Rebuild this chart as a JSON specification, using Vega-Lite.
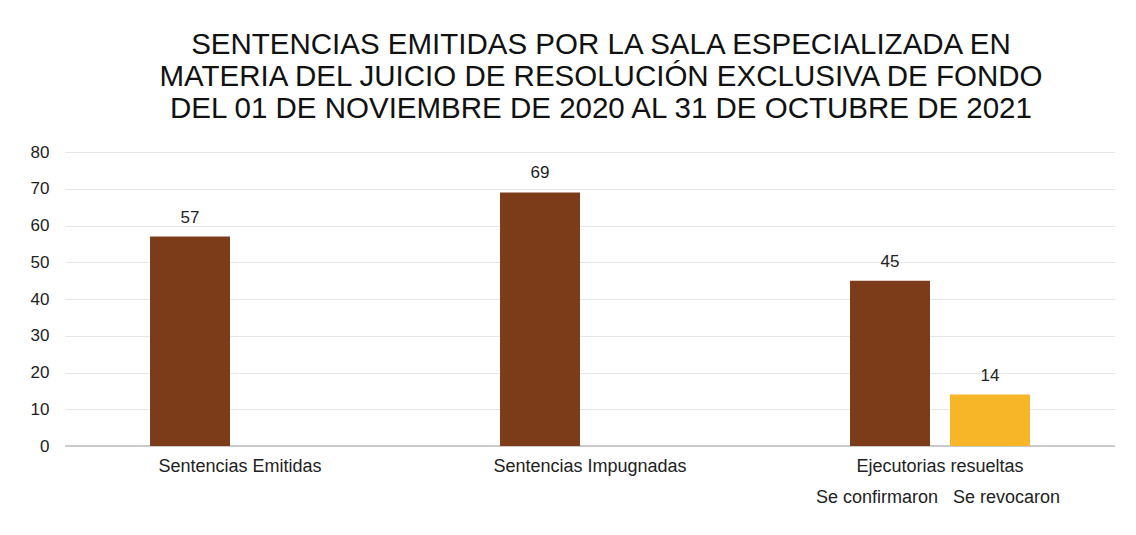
{
  "$schema": "https://vega.github.io/schema/vega-lite/v6.json",
  "autosize": {"type": "none"},
  "width": 1050,
  "height": 294,
  "padding": {"left": 65, "top": 152, "right": 21, "bottom": 89},
  "background": "white",
  "config": {
    "view": {"stroke": null},
    "font": "Liberation Sans",
    "axisY": {
      "title": null,
      "tickCount": 8,
      "grid": true,
      "labelOverlap": false,
      "labelFontSize": 17,
      "labelColor": "#222222",
      "labelPadding": 16,
      "ticks": false,
      "domain": false,
      "gridColor": "#e6e6e6"
    }
  },
  "title": {
    "text": ["SENTENCIAS EMITIDAS POR LA SALA ESPECIALIZADA EN", "MATERIA DEL JUICIO DE RESOLUCIÓN EXCLUSIVA DE FONDO", "DEL 01 DE NOVIEMBRE DE 2020 AL 31 DE OCTUBRE DE 2021"],
    "font": "Liberation Sans",
    "fontSize": 29.5,
    "fontWeight": "normal",
    "color": "#111111",
    "lineHeight": 32,
    "anchor": "middle",
    "dx": 11,
    "offset": 19
  },
  "data": {
    "values": [
      {"grupo": "Sentencias Emitidas", "serie": "1", "valor": 57},
      {"grupo": "Sentencias Impugnadas", "serie": "1", "valor": 69},
      {"grupo": "Ejecutorias resueltas", "serie": "1", "valor": 45, "sub": "Se confirmaron"},
      {"grupo": "Ejecutorias resueltas", "serie": "2", "valor": 14, "sub": "Se revocaron"}
    ]
  },
  "encoding": {
    "x": {
      "field": "grupo",
      "type": "nominal",
      "sort": ["Sentencias Emitidas", "Sentencias Impugnadas", "Ejecutorias resueltas"],
      "scale": {"paddingInner": 0, "paddingOuter": 0},
      "axis": {
        "title": null,
        "labelAngle": 0,
        "labelFontSize": 18,
        "labelColor": "#222222",
        "labelPadding": 11,
        "labelLimit": 400,
        "ticks": false,
        "domain": false
      }
    },
    "xOffset": {
      "field": "serie",
      "type": "nominal",
      "scale": {"domain": ["1", "2"], "paddingInner": 0.2, "paddingOuter": 0.85}
    }
  },
  "layer": [
    {
      "mark": {"type": "rule", "color": "#c8c8c8", "strokeWidth": 1},
      "encoding": {"x": null, "xOffset": null, "y": {"datum": 0, "type": "quantitative", "scale": {"domain": [0, 80]}}}
    },
    {
      "mark": {"type": "bar"},
      "encoding": {
        "y": {"field": "valor", "type": "quantitative", "scale": {"domain": [0, 80]}},
        "color": {
          "field": "serie",
          "type": "nominal",
          "scale": {"domain": ["1", "2"], "range": ["#7D3C19", "#F6B628"]},
          "legend": null
        }
      }
    },
    {
      "mark": {"type": "text", "baseline": "bottom", "dy": -10, "fontSize": 17, "color": "#222222"},
      "encoding": {
        "y": {"field": "valor", "type": "quantitative"},
        "text": {"field": "valor", "type": "quantitative"}
      }
    },
    {
      "transform": [{"filter": "datum.sub == 'Se confirmaron'"}],
      "mark": {"type": "text", "align": "right", "baseline": "middle", "dy": 52, "dx": -2, "fontSize": 18, "color": "#222222"},
      "encoding": {
        "xOffset": null,
        "y": {"datum": 0, "type": "quantitative"},
        "text": {"field": "sub"}
      }
    },
    {
      "transform": [{"filter": "datum.sub == 'Se revocaron'"}],
      "mark": {"type": "text", "align": "left", "baseline": "middle", "dy": 52, "dx": 13, "fontSize": 18, "color": "#222222"},
      "encoding": {
        "xOffset": null,
        "y": {"datum": 0, "type": "quantitative"},
        "text": {"field": "sub"}
      }
    }
  ]
}
